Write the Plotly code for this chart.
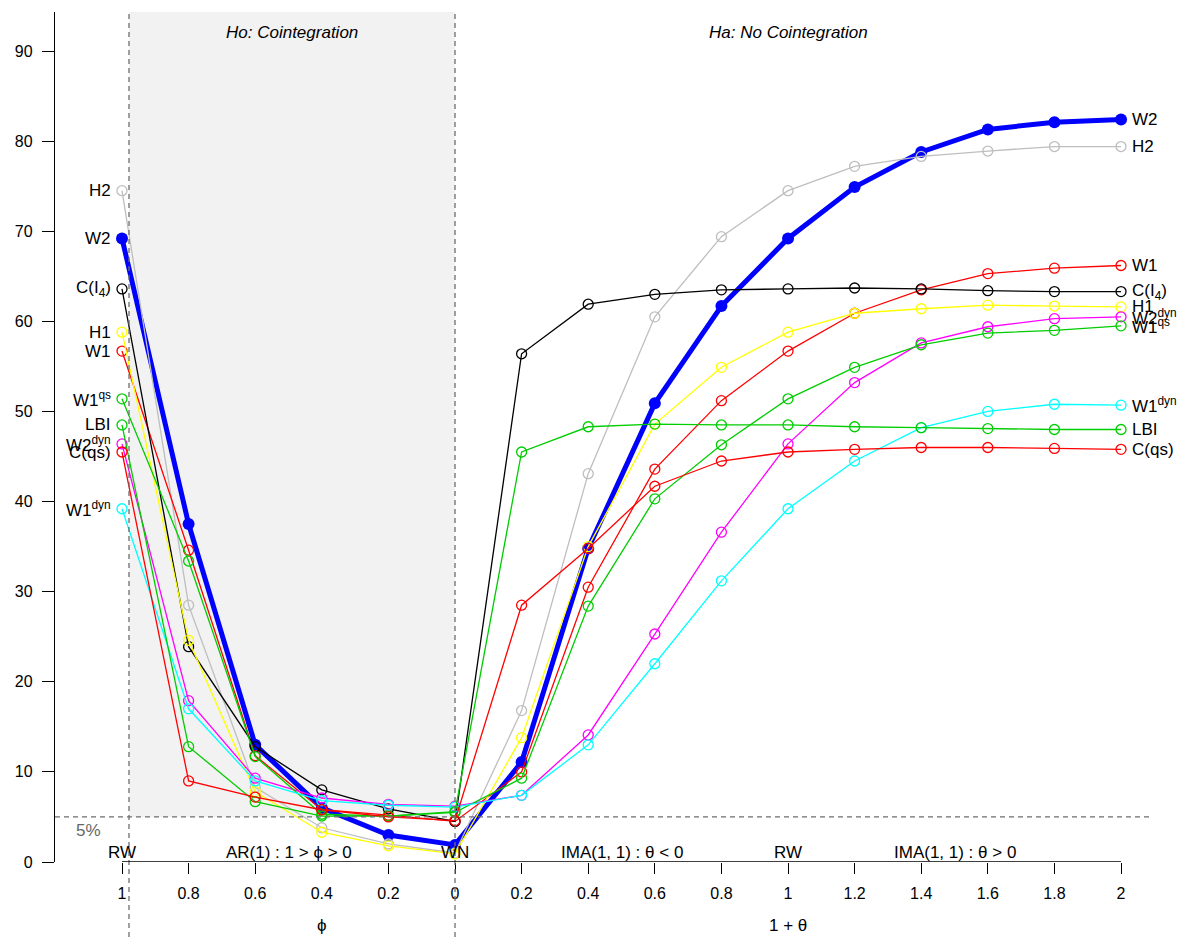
import plotly.graph_objects as go

# ---------------- data ----------------
phi_labels = ["1", "0.8", "0.6", "0.4", "0.2", "0"]
theta_labels = ["0.2", "0.4", "0.6", "0.8", "1", "1.2", "1.4", "1.6", "1.8", "2"]
tick_labels = phi_labels + theta_labels
x_pos = list(range(len(tick_labels)))

W2 = [69.2, 37.5, 13.0, 6.0, 3.0, 1.9, 11.1, 34.8, 50.9, 61.7, 69.2, 74.9, 78.8, 81.3, 82.1, 82.4]
H2 = [74.5, 28.5, 8.3, 3.8, 2.0, 1.0, 16.8, 43.1, 60.5, 69.4, 74.5, 77.2, 78.3, 78.9, 79.4, 79.4]
W1 = [56.7, 34.6, 11.8, 5.8, 5.2, 4.5, 10.0, 30.5, 43.6, 51.2, 56.7, 60.9, 63.5, 65.3, 65.9, 66.2]
C_I4 = [63.6, 23.9, 12.8, 8.0, 5.9, 4.5, 56.4, 61.9, 63.0, 63.5, 63.6, 63.7, 63.6, 63.4, 63.3, 63.3]
H1 = [58.8, 24.6, 7.8, 3.3, 1.8, 0.9, 13.8, 35.0, 48.6, 54.9, 58.8, 60.9, 61.4, 61.8, 61.7, 61.6]
W1qs = [51.4, 33.4, 11.7, 5.3, 5.1, 5.5, 9.3, 28.4, 40.3, 46.3, 51.4, 54.9, 57.4, 58.7, 59.0, 59.5]
LBI = [48.5, 12.8, 6.7, 5.1, 5.1, 5.6, 45.5, 48.3, 48.6, 48.5, 48.5, 48.3, 48.2, 48.1, 48.0, 48.0]
W2dyn = [46.4, 17.9, 9.3, 7.1, 6.4, 6.2, 7.4, 14.1, 25.3, 36.6, 46.4, 53.2, 57.6, 59.4, 60.3, 60.5]
W1dyn = [39.2, 17.0, 9.0, 6.8, 6.3, 6.1, 7.4, 13.0, 22.0, 31.2, 39.2, 44.5, 48.2, 50.0, 50.8, 50.7]
Cqs = [45.5, 9.0, 7.2, 5.8, 5.0, 4.6, 28.5, 34.8, 41.7, 44.5, 45.5, 45.8, 46.0, 46.0, 45.9, 45.8]

series = [
    ("W2", W2, "#0000FF", "W2"),
    ("H2", H2, "#BEBEBE", "H2"),
    ("W1", W1, "#FF0000", "W1"),
    ("C(I4)", C_I4, "#000000", "C(I<sub>4</sub>)"),
    ("H1", H1, "#FFFF00", "H1"),
    ("W2dyn", W2dyn, "#FF00FF", "W2<sup>dyn</sup>"),
    ("W1qs", W1qs, "#00CD00", "W1<sup>qs</sup>"),
    ("W1dyn", W1dyn, "#00FFFF", "W1<sup>dyn</sup>"),
    ("LBI", LBI, "#00CD00", "LBI"),
    ("C(qs)", Cqs, "#FF0000", "C(qs)"),
]

FONT = "Liberation Sans, Arial, Helvetica, sans-serif"
LAB = 17
xmin, xmax = -1.006, 15.435
ymin, ymax = 0, 94.33
def px(v):
    return (v - xmin) / (xmax - xmin)

fig = go.Figure()

for name, vals, col, lab in series:
    if name == "W2":
        fig.add_trace(go.Scatter(
            x=x_pos, y=vals, mode="lines+markers", name=name,
            line=dict(color=col, width=5),
            marker=dict(symbol="circle", size=12, color=col),
        ))
    else:
        fig.add_trace(go.Scatter(
            x=x_pos, y=vals, mode="lines+markers", name=name,
            line=dict(color=col, width=1.3),
            marker=dict(symbol="circle-open", size=10, color=col, line=dict(width=1.3)),
        ))

annotations = []
for name, vals, col, lab in series:
    annotations.append(dict(x=x_pos[0], y=vals[0], text=lab, xanchor="right", yanchor="middle",
                            xshift=-9, showarrow=False, font=dict(size=LAB, color="black", family=FONT)))
    annotations.append(dict(x=x_pos[-1], y=vals[-1], text=lab, xanchor="left", yanchor="middle",
                            xshift=9, showarrow=False, font=dict(size=LAB, color="black", family=FONT)))

# region texts
annotations += [
    dict(x=2.55, y=92.1, text="<i>Ho: Cointegration</i>", showarrow=False,
         font=dict(size=LAB, family=FONT, color="black")),
    dict(x=10, y=92.1, text="<i>Ha: No Cointegration</i>", showarrow=False,
         font=dict(size=LAB, family=FONT, color="black")),
    dict(x=-0.5, y=3.5, text="5%", showarrow=False, font=dict(size=LAB, family=FONT, color="#666666")),
]
bottom = [(0, "RW"), (2.5, "AR(1) : 1 > ϕ > 0"), (5, "WN"), (7.5, "IMA(1, 1) : θ < 0"),
          (10, "RW"), (12.5, "IMA(1, 1) : θ > 0")]
for xb, tb in bottom:
    annotations.append(dict(x=xb, y=1.0, text=tb, showarrow=False, yanchor="middle",
                            font=dict(size=LAB, family=FONT, color="black")))
annotations += [
    dict(x=3, y=-63 / 850, yref="paper", text="ϕ", showarrow=False, yanchor="middle",
         font=dict(size=LAB, family=FONT, color="black")),
    dict(x=10, y=-63 / 850, yref="paper", text="1 + θ", showarrow=False, yanchor="middle",
         font=dict(size=LAB, family=FONT, color="black")),
]

dash_col = "#6E6E6E"
shapes = [
    dict(type="rect", xref="x", yref="paper", x0=0.105, x1=5, y0=5 / ymax, y1=1,
         fillcolor="#F2F2F2", line=dict(width=0), layer="below"),
    dict(type="line", xref="paper", yref="y", x0=0, x1=1, y0=5, y1=5,
         line=dict(color=dash_col, width=1.3, dash="5px,4px")),
    dict(type="line", xref="paper", yref="paper", x0=px(0.105), x1=px(0.105), y0=-75 / 850, y1=1,
         line=dict(color=dash_col, width=1.3, dash="5px,4px")),
    dict(type="line", xref="paper", yref="paper", x0=px(5), x1=px(5), y0=-75 / 850, y1=1,
         line=dict(color=dash_col, width=1.3, dash="5px,4px")),
    dict(type="line", xref="x", yref="y", x0=x_pos[0], x1=x_pos[-1], y0=0, y1=0,
         line=dict(color="black", width=1.3)),
]

# page body has an 8px margin: shrink the figure so the plot lands where it should
fig.update_layout(
    width=1180, height=929,
    margin=dict(l=47, r=38, t=4, b=75),
    plot_bgcolor="white", paper_bgcolor="white",
    showlegend=False,
    font=dict(family=FONT, size=16, color="black"),
    annotations=annotations,
    shapes=shapes,
)
fig.update_xaxes(range=[xmin, xmax], tickvals=x_pos, ticktext=tick_labels,
                 showgrid=False, zeroline=False, showline=False,
                 ticks="outside", ticklen=11, tickwidth=1.3, tickcolor="black",
                 ticklabelstandoff=6, tickfont=dict(size=16, family=FONT))
fig.update_yaxes(range=[ymin, ymax], tickvals=list(range(0, 100, 10)),
                 showgrid=False, zeroline=False, showline=True, linecolor="black", linewidth=1.3,
                 ticks="outside", ticklen=12, tickwidth=1.3, tickcolor="black",
                 ticklabelstandoff=6, tickfont=dict(size=16, family=FONT))

fig.write_html("out.html")
